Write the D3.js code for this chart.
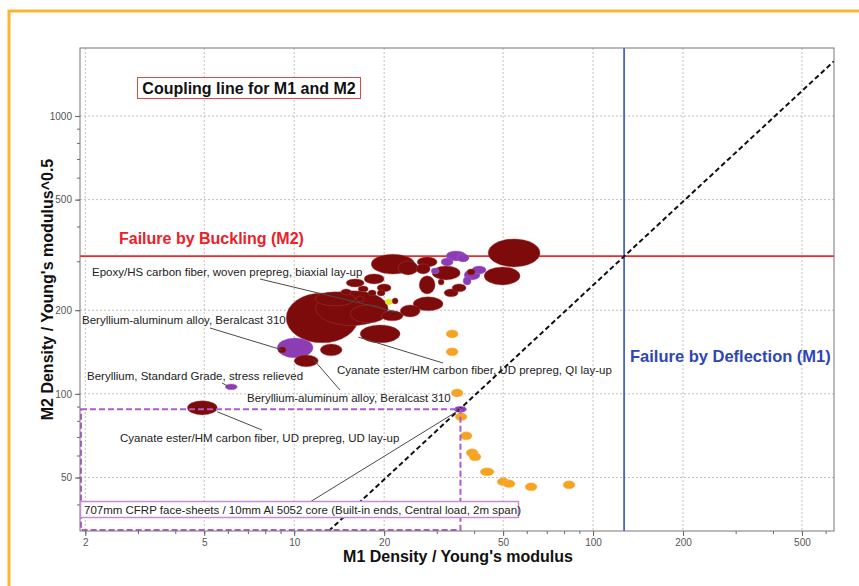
<!DOCTYPE html>
<html>
<head>
<meta charset="utf-8">
<script src="https://cdn.jsdelivr.net/npm/d3@7/dist/d3.min.js"></script>
<style>
  body { margin: 0; background: #fff; }
  svg { display: block; font-family: "Liberation Sans", Arial, sans-serif; }
</style>
</head>
<body>
<svg id="chart" width="859" height="586"></svg>
<script>
// ---- Material property ranges: [M1 low, M1 high, M2 low, M2 high] ----
// Carbon-fibre composites (dark red)
const compositeRanges = [
  [9.40, 16.37, 152.6, 230.8],
  [11.80, 20.60, 176.0, 235.0],
  [11.75, 16.00, 207.3, 232.8],
  [15.40, 20.31, 180.1, 209.0],
  [16.62, 22.62, 152.6, 177.1],
  [12.22, 14.47, 137.0, 151.3],
  [10.00, 12.03, 125.1, 138.1],
  [8.84, 9.40, 140.4, 147.6],
  [4.39, 5.53, 84.0, 94.4],
  [19.54, 23.15, 183.1, 198.9],
  [22.62, 26.39, 189.2, 209.0],
  [25.00, 31.49, 198.9, 223.4],
  [21.27, 22.27, 210.7, 221.5],
  [18.95, 20.15, 225.2, 236.6],
  [17.68, 18.80, 225.2, 236.6],
  [16.37, 17.68, 232.8, 244.6],
  [14.93, 17.14, 242.6, 259.2],
  [17.14, 20.00, 248.7, 270.2],
  [18.95, 21.10, 232.8, 248.7],
  [18.10, 25.30, 270.0, 318.0],
  [22.27, 25.98, 268.0, 300.9],
  [25.78, 30.08, 286.3, 311.0],
  [25.59, 28.50, 270.2, 293.5],
  [26.19, 29.62, 228.9, 265.8],
  [28.94, 35.93, 257.1, 288.7],
  [30.31, 31.74, 246.6, 259.2],
  [31.74, 35.37, 223.4, 238.6],
  [33.76, 37.60, 232.8, 248.7],
  [37.89, 40.31, 268.0, 281.6],
  [44.56, 66.48, 286.3, 361.1],
  [43.21, 57.00, 246.6, 286.3],
  [16.12, 17.14, 214.2, 225.2],
  [14.36, 15.51, 227.0, 238.6]
];
// Beryllium and beryllium-aluminium alloys (purple)
const berylliumRanges = [
  [8.77, 11.57, 134.8, 159.0],
  [5.88, 6.45, 103.4, 108.6],
  [32.23, 37.60, 300.9, 326.9],
  [31.01, 34.03, 288.7, 308.5],
  [35.10, 38.48, 298.4, 318.8],
  [28.72, 30.54, 270.2, 284.0],
  [37.03, 41.89, 257.1, 279.3],
  [39.39, 43.87, 270.2, 288.7],
  [36.74, 39.08, 246.6, 263.6],
  [34.3, 37.7, 85.8, 90.3]
];
// CFRP / aluminium honeycomb sandwich panels (orange)
const sandwichRanges = [
  [32.23, 35.37, 159.0, 169.9],
  [32.23, 35.37, 137.0, 146.4],
  [33.50, 36.74, 97.5, 104.2],
  [34.55, 37.89, 80.0, 85.45],
  [35.93, 39.39, 68.3, 73.0],
  [37.60, 41.24, 59.35, 63.41],
  [38.48, 42.20, 57.41, 61.34],
  [41.89, 46.67, 50.70, 54.17],
  [47.75, 52.38, 46.69, 49.87],
  [50.00, 54.84, 45.92, 49.05],
  [59.24, 64.97, 44.78, 47.86],
  [79.36, 87.04, 45.53, 48.66]
];
// Epoxy/HS woven prepreg (yellow)
const epoxyRanges = [
  [20.15, 21.43, 209.0, 219.7]
];

// ---- Axes, limits and selection ----
const xDomain = [1.92, 640];
const yDomain = [32.1, 1756];
const xTickValues = [2, 5, 10, 20, 50, 100, 200, 500];
const yTickValues = [50, 100, 200, 500, 1000];
const m1Limit = 127;        // deflection limit (M1)
const m2Limit = 313;        // buckling limit (M2)
const couplingRatio = 2.46; // M2 / M1 along the coupling line
const selectedPoint = [36.0, 88.0];

// ---- Layout ----
const W = 859, H = 586;
const margin = { left: 80, top: 48, right: 25, bottom: 55 };
const pw = W - margin.left - margin.right;
const ph = H - margin.top - margin.bottom;

const svg = d3.select("#chart");
svg.append("rect").attr("width", W).attr("height", H).attr("fill", "#fff");

// orange page frame
svg.append("path")
  .attr("d", `M9,${H} V11 H${W}`)
  .attr("fill", "none").attr("stroke", "#fbb531").attr("stroke-width", 3);

const g = svg.append("g").attr("transform", `translate(${margin.left},${margin.top})`);

const x = d3.scaleLog().domain(xDomain).range([0, pw]);
const y = d3.scaleLog().domain(yDomain).range([ph, 0]);

// minor tick values
function minorValues(domain) {
  const out = [];
  for (let p = 0; p <= 4; p++) {
    for (let k = 1; k <= 9; k++) {
      const v = k * Math.pow(10, p);
      if (v >= domain[0] && v <= domain[1]) out.push(v);
    }
  }
  return out;
}

g.append("defs").append("clipPath").attr("id", "plotClip")
  .append("rect").attr("width", pw).attr("height", ph);

// grid
const grid = g.append("g").attr("class", "grid");
grid.selectAll("line.vx").data(xTickValues).join("line")
  .attr("x1", d => x(d)).attr("x2", d => x(d))
  .attr("y1", 0).attr("y2", ph)
  .attr("stroke", "#c9bdbd").attr("stroke-width", 1).attr("stroke-dasharray", "2,2");
grid.selectAll("line.hy").data(yTickValues).join("line")
  .attr("y1", d => y(d)).attr("y2", d => y(d))
  .attr("x1", 0).attr("x2", pw)
  .attr("stroke", "#c9bdbd").attr("stroke-width", 1).attr("stroke-dasharray", "2,2");

// axes: minor ticks, then labelled major ticks
function styleAxis(sel) {
  sel.select(".domain").remove();
  sel.selectAll(".tick line").attr("stroke", "#666");
  sel.selectAll(".tick text").attr("fill", "#555").attr("font-size", 10)
    .attr("font-family", "'Liberation Sans', Arial, sans-serif");
}
g.append("g").attr("transform", `translate(0,${ph})`)
  .call(d3.axisBottom(x).tickValues(minorValues(xDomain)).tickSize(3).tickFormat(""))
  .call(styleAxis);
g.append("g").attr("transform", `translate(0,${ph})`)
  .call(d3.axisBottom(x).tickValues(xTickValues).tickSize(5).tickFormat(d3.format("d")))
  .call(styleAxis);
g.append("g")
  .call(d3.axisLeft(y).tickValues(minorValues(yDomain)).tickSize(3).tickFormat(""))
  .call(styleAxis);
g.append("g")
  .call(d3.axisLeft(y).tickValues(yTickValues).tickSize(5).tickFormat(d3.format("d")))
  .call(styleAxis);

const plot = g.append("g").attr("clip-path", "url(#plotClip)");

// limit lines
plot.append("line")
  .attr("x1", 0).attr("x2", pw).attr("y1", y(m2Limit)).attr("y2", y(m2Limit))
  .attr("stroke", "#ee2a2a").attr("stroke-width", 1.6);
plot.append("line")
  .attr("x1", x(m1Limit)).attr("x2", x(m1Limit)).attr("y1", 0).attr("y2", ph)
  .attr("stroke", "#3351c0").attr("stroke-width", 1.6);

// material ellipses, largest drawn first
const families = [
  { ranges: compositeRanges, fill: "#7d0b0b", stroke: "#a84a4a" },
  { ranges: berylliumRanges, fill: "#8c3db5", stroke: "#b07ad0" },
  { ranges: sandwichRanges, fill: "#f6a321", stroke: "#f8c070" },
  { ranges: epoxyRanges, fill: "#e6e61e", stroke: "#f0f070" }
];
const shapes = [];
families.forEach(f => f.ranges.forEach(r => {
  const x0 = x(r[0]), x1 = x(r[1]), y0 = y(r[2]), y1 = y(r[3]);
  shapes.push({
    cx: (x0 + x1) / 2, cy: (y0 + y1) / 2,
    rx: (x1 - x0) / 2, ry: (y0 - y1) / 2,
    fill: f.fill, stroke: f.stroke
  });
}));
shapes.sort((a, b) => b.rx * b.ry - a.rx * a.ry);
plot.selectAll("ellipse").data(shapes).join("ellipse")
  .attr("cx", d => d.cx).attr("cy", d => d.cy)
  .attr("rx", d => d.rx).attr("ry", d => d.ry)
  .attr("fill", d => d.fill)
  .attr("stroke", d => d.stroke).attr("stroke-opacity", 0.55).attr("stroke-width", 0.7);

// coupling line M2 = ratio * M1
const cx0 = yDomain[0] / couplingRatio;
const cx1 = Math.min(xDomain[1], yDomain[1] / couplingRatio);
plot.append("line")
  .attr("x1", x(cx0)).attr("y1", y(cx0 * couplingRatio))
  .attr("x2", x(cx1)).attr("y2", y(cx1 * couplingRatio))
  .attr("stroke", "#111").attr("stroke-width", 2).attr("stroke-dasharray", "5,3");

// selection box
plot.append("rect")
  .attr("x", 1).attr("y", y(selectedPoint[1]))
  .attr("width", x(selectedPoint[0]) - 1)
  .attr("height", ph - 1 - y(selectedPoint[1]))
  .attr("fill", "none").attr("stroke", "#b05ad0").attr("stroke-width", 2)
  .attr("stroke-dasharray", "6,3");

// plot frame
g.append("rect").attr("width", pw).attr("height", ph)
  .attr("fill", "none").attr("stroke", "#777").attr("stroke-width", 1);

// ---- Annotations (label anchor in page pixels, target in data units) ----
const notes = [
  { text: "Epoxy/HS carbon fiber, woven prepreg, biaxial lay-up", tx: 92, ty: 276, from: [260, 279], to: [22.1, 197] },
  { text: "Beryllium-aluminum alloy, Beralcast 310", tx: 82, ty: 324, from: [210, 328], to: [9.1, 144] },
  { text: "Beryllium, Standard Grade, stress relieved", tx: 87, ty: 380, from: [222, 383], to: [5.97, 107] },
  { text: "Beryllium-aluminum alloy, Beralcast 310", tx: 247, ty: 402, from: [340, 390], to: [11.6, 133] },
  { text: "Cyanate ester/HM carbon fiber, UD prepreg, QI lay-up", tx: 337, ty: 374, from: [443, 363], to: [16.4, 160] },
  { text: "Cyanate ester/HM carbon fiber, UD prepreg, UD lay-up", tx: 120, ty: 442, from: [262, 430], to: [5.53, 86.2] },
  { text: null, from: [310, 502], to: selectedPoint }
];
const ann = svg.append("g");
notes.forEach(n => {
  ann.append("line")
    .attr("x1", n.from[0]).attr("y1", n.from[1])
    .attr("x2", margin.left + x(n.to[0])).attr("y2", margin.top + y(n.to[1]))
    .attr("stroke", "#4a4a4a").attr("stroke-width", 1);
  if (n.text) {
    ann.append("text").attr("x", n.tx).attr("y", n.ty)
      .attr("font-size", 11.5).attr("fill", "#222").text(n.text);
  }
});

// sandwich panel caption
ann.append("rect").attr("x", 80.5).attr("y", 501.5).attr("width", 438).attr("height", 16)
  .attr("fill", "#fff").attr("stroke", "#c98ad8").attr("stroke-width", 1.5);
ann.append("text").attr("x", 84).attr("y", 513.5)
  .attr("font-size", 11.5).attr("fill", "#222")
  .text("707mm CFRP face-sheets / 10mm Al 5052 core (Built-in ends, Central load, 2m span)");

// coupling caption
ann.append("rect").attr("x", 137.5).attr("y", 77.5).attr("width", 223).attr("height", 21)
  .attr("fill", "#fff").attr("stroke", "#e04848").attr("stroke-width", 1);
ann.append("text").attr("x", 249).attr("y", 93.5).attr("text-anchor", "middle")
  .attr("font-size", 16).attr("font-weight", "bold").attr("fill", "#111")
  .text("Coupling line for M1 and M2");

// failure mode captions
ann.append("text").attr("x", 119).attr("y", 244)
  .attr("font-size", 16).attr("font-weight", "bold").attr("fill", "#ec2027")
  .text("Failure by Buckling (M2)");
ann.append("text").attr("x", 630).attr("y", 362)
  .attr("font-size", 16.5).attr("font-weight", "bold").attr("fill", "#2e46b4")
  .text("Failure by Deflection (M1)");

// axis titles
svg.append("text").attr("x", margin.left + pw / 2 + 1).attr("y", 562)
  .attr("text-anchor", "middle").attr("font-size", 16).attr("font-weight", "bold").attr("fill", "#111")
  .text("M1 Density / Young's modulus");
svg.append("text")
  .attr("transform", `translate(53,${margin.top + ph / 2}) rotate(-90)`)
  .attr("text-anchor", "middle").attr("font-size", 16).attr("font-weight", "bold").attr("fill", "#111")
  .text("M2 Density / Young's modulus^0.5");
</script>
</body>
</html>
